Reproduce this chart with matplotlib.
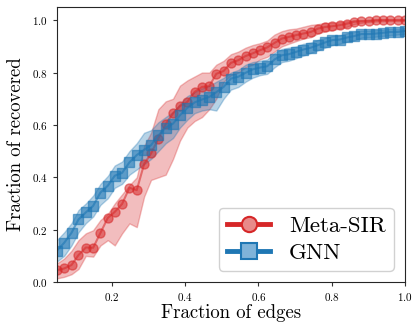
import numpy as np
import matplotlib
matplotlib.use("Agg")
import matplotlib.pyplot as plt
from matplotlib.lines import Line2D

plt.rcParams['font.family'] = 'serif'
plt.rcParams['font.serif'] = ['cmr10']
plt.rcParams['mathtext.fontset'] = 'cm'
plt.rcParams['axes.formatter.use_mathtext'] = True

# fraction of edges (x grid)
frac_edges = [0.050, 0.070, 0.090, 0.109, 0.129, 0.149, 0.169, 0.189, 0.208, 0.228,
              0.248, 0.268, 0.288, 0.307, 0.327, 0.347, 0.367, 0.386, 0.406, 0.426,
              0.446, 0.466, 0.485, 0.505, 0.525, 0.545, 0.565, 0.584, 0.604, 0.624,
              0.644, 0.664, 0.683, 0.703, 0.723, 0.743, 0.763, 0.782, 0.802, 0.822,
              0.842, 0.861, 0.881, 0.901, 0.921, 0.941, 0.960, 0.980, 1.000]

# Meta-SIR
sir_mean = [0.045, 0.052, 0.065, 0.103, 0.132, 0.131, 0.188, 0.245, 0.268, 0.298,
            0.360, 0.351, 0.450, 0.491, 0.548, 0.603, 0.644, 0.672, 0.688, 0.726,
            0.745, 0.748, 0.795, 0.806, 0.837, 0.847, 0.863, 0.873, 0.885, 0.896,
            0.913, 0.930, 0.936, 0.943, 0.949, 0.955, 0.968, 0.974, 0.977, 0.981,
            0.987, 0.994, 0.996, 0.996, 1.000, 1.000, 1.000, 1.000, 1.000]
sir_lo = [0.014, 0.020, 0.030, 0.050, 0.100, 0.097, 0.140, 0.160, 0.140, 0.186,
          0.224, 0.210, 0.326, 0.390, 0.400, 0.410, 0.470, 0.540, 0.590, 0.615,
          0.630, 0.660, 0.700, 0.765, 0.790, 0.800, 0.820, 0.830, 0.850, 0.860,
          0.880, 0.900, 0.910, 0.920, 0.930, 0.935, 0.950, 0.957, 0.962, 0.968,
          0.975, 0.985, 0.990, 0.993, 0.995, 0.996, 0.997, 0.997, 0.998]
sir_hi = [0.071, 0.090, 0.120, 0.160, 0.186, 0.198, 0.237, 0.260, 0.300, 0.335,
          0.370, 0.400, 0.520, 0.570, 0.660, 0.690, 0.700, 0.750, 0.770, 0.785,
          0.800, 0.800, 0.830, 0.845, 0.870, 0.880, 0.895, 0.905, 0.912, 0.922,
          0.945, 0.958, 0.965, 0.968, 0.975, 0.982, 0.985, 0.990, 0.990, 0.993,
          0.997, 1.000, 1.000, 1.002, 1.003, 1.003, 1.003, 1.003, 1.003]

# GNN
gnn_mean = [0.120, 0.150, 0.188, 0.239, 0.266, 0.291, 0.342, 0.368, 0.406, 0.417,
            0.457, 0.485, 0.505, 0.523, 0.560, 0.590, 0.605, 0.637, 0.665, 0.686,
            0.697, 0.707, 0.725, 0.745, 0.777, 0.784, 0.799, 0.812, 0.819, 0.824,
            0.850, 0.866, 0.870, 0.879, 0.888, 0.895, 0.905, 0.915, 0.924, 0.926,
            0.934, 0.939, 0.947, 0.947, 0.949, 0.952, 0.955, 0.955, 0.959]
gnn_lo = [0.078, 0.100, 0.140, 0.190, 0.225, 0.250, 0.295, 0.320, 0.360, 0.375,
          0.410, 0.430, 0.450, 0.470, 0.500, 0.530, 0.550, 0.590, 0.620, 0.645,
          0.655, 0.660, 0.655, 0.700, 0.735, 0.745, 0.765, 0.780, 0.790, 0.795,
          0.820, 0.840, 0.845, 0.855, 0.865, 0.875, 0.885, 0.895, 0.905, 0.910,
          0.918, 0.923, 0.933, 0.935, 0.937, 0.940, 0.943, 0.945, 0.948]
gnn_hi = [0.160, 0.190, 0.225, 0.275, 0.300, 0.330, 0.375, 0.405, 0.445, 0.460,
          0.500, 0.530, 0.570, 0.580, 0.610, 0.630, 0.650, 0.680, 0.710, 0.725,
          0.740, 0.750, 0.765, 0.780, 0.800, 0.810, 0.830, 0.840, 0.845, 0.850,
          0.875, 0.890, 0.895, 0.900, 0.910, 0.915, 0.925, 0.932, 0.940, 0.942,
          0.950, 0.955, 0.960, 0.960, 0.962, 0.964, 0.967, 0.966, 0.970]

red = '#d62728'
blue = '#1f77b4'

fig = plt.figure(figsize=(4.12, 3.22), dpi=100)
ax = fig.add_axes([0.138, 0.124, 0.845, 0.854])

ax.fill_between(frac_edges, sir_lo, sir_hi, color=red, alpha=0.3, lw=1)
ax.plot(frac_edges, sir_mean, color=red, marker='o', ms=6.5, lw=1.5, alpha=0.55)
ax.fill_between(frac_edges, gnn_lo, gnn_hi, color=blue, alpha=0.32, lw=1)
ax.plot(frac_edges, gnn_mean, color=blue, marker='s', ms=6.5, lw=1.5, alpha=0.6)

ax.set_xlim(0.05, 1.0)
ax.set_ylim(0, 1.05)
ax.set_xticks([0.2, 0.4, 0.6, 0.8, 1.0])
ax.set_yticks([0.0, 0.2, 0.4, 0.6, 0.8, 1.0])
ax.tick_params(labelsize=8, length=3, color='0.2')
for s in ax.spines.values():
    s.set_color('0.15')
ax.set_xlabel('Fraction of edges', fontsize=13.5, labelpad=1)
ax.set_ylabel('Fraction of recovered', fontsize=13.5, labelpad=5)

handles = [
    Line2D([], [], color=red, lw=3.5, marker='o', ms=11, mfc='#e88a8a', mec=red, mew=1.5),
    Line2D([], [], color=blue, lw=3.5, marker='s', ms=11, mfc='#7fb3d9', mec=blue, mew=1.5),
]
ax.legend(handles, ['Meta-SIR', 'GNN'], loc='lower right', fontsize=16.5,
          handlelength=1.9, handletextpad=0.8, borderpad=0.35, labelspacing=0.3,
          framealpha=0.9, bbox_to_anchor=(1.0, 0.0))

plt.savefig('out.png', dpi=100)
